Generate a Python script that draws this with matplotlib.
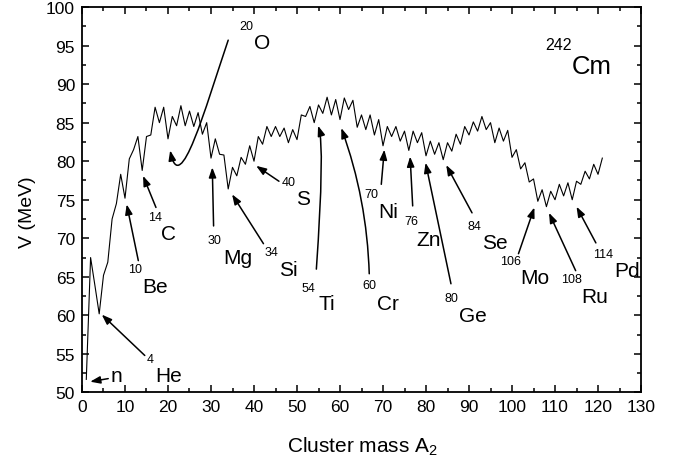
import numpy as np
import matplotlib
matplotlib.use("Agg")
import matplotlib.pyplot as plt
from matplotlib.ticker import MultipleLocator
from matplotlib.patches import FancyArrowPatch
from matplotlib.path import Path

plt.rcParams['font.family'] = ['Liberation Sans', 'DejaVu Sans']

# cluster mass numbers and barrier heights
mass = np.arange(1, 122)
barrier = [
    51.7, 67.5, 63.9, 60.2, 65.2, 66.9, 72.5, 74.5, 78.3, 75.2,    # 1-10
    80.3, 81.5, 83.2, 78.8, 83.2, 83.4, 87.0, 85.0, 87.0, 82.9,    # 11-20
    85.8, 84.6, 87.2, 84.6, 86.5, 84.5, 86.3, 83.5, 85.0, 80.4,    # 21-30
    82.9, 80.9, 80.8, 76.4, 79.2, 78.1, 80.5, 79.6, 82.0, 80.0,    # 31-40
    83.2, 82.2, 84.5, 83.2, 84.5, 83.2, 84.3, 82.4, 84.1, 82.8,    # 41-50
    86.0, 85.8, 87.1, 85.0, 87.3, 86.2, 88.3, 86.0, 88.0, 85.4,    # 51-60
    88.2, 86.7, 87.9, 84.4, 86.0, 84.1, 86.0, 83.4, 85.4, 82.0,    # 61-70
    84.5, 83.2, 84.5, 82.6, 83.9, 81.4, 83.9, 82.4, 83.7, 80.7,    # 71-80
    82.6, 80.9, 82.4, 80.2, 82.4, 81.3, 83.5, 82.2, 84.5, 83.4,    # 81-90
    85.1, 83.9, 85.8, 84.1, 85.0, 82.4, 84.3, 82.6, 84.0, 80.5,    # 91-100
    81.5, 79.0, 79.8, 77.3, 77.7, 74.8, 76.3, 74.1, 76.1, 75.0,    # 101-110
    77.0, 75.5, 77.2, 75.0, 77.4, 77.0, 78.7, 77.7, 79.6, 78.3,    # 111-120
    80.4,                                                          # 121
]

# labelled clusters: mass number, symbol
lab_mass = [1, 4, 10, 14, 20, 30, 34, 40, 54, 60, 70, 76, 80, 84, 106, 108, 114]
lab_sym = ['n', 'He', 'Be', 'C', 'O', 'Mg', 'Si', 'S', 'Ti', 'Cr', 'Ni', 'Zn',
           'Ge', 'Se', 'Mo', 'Ru', 'Pd']
# where the symbol / mass number sit and where each arrow starts (data coords)
sym_pos = [(8.1, 52.2), (20.1, 52.2), (17.0, 63.8), (20.2, 70.6), (42.0, 95.4),
           (36.3, 67.5), (48.0, 66.0), (51.5, 75.1), (56.9, 61.5), (71.2, 61.5),
           (71.2, 73.5), (80.5, 69.9), (90.9, 60.0), (96.0, 69.5), (105.3, 64.9),
           (119.3, 62.4), (126.7, 65.8)]
num_pos = [None, (15.8, 54.3), (12.3, 66.0), (17.0, 72.7), (38.3, 97.6),
           (30.7, 69.8), (44.1, 68.2), (48.0, 77.3), (52.6, 63.6), (66.8, 63.9),
           (67.2, 75.7), (76.7, 72.2), (86.0, 62.2), (91.2, 71.6), (99.7, 67.1),
           (113.9, 64.7), (121.2, 68.0)]
tail_pos = [(6.1, 51.8), (14.6, 54.8), (13.1, 67.1), (17.2, 74.0), (34.0, 95.7),
            (30.6, 71.6), (42.2, 69.3), (45.8, 77.4), (54.5, 66.0), (66.8, 65.4),
            (69.6, 77.0), (76.9, 74.2), (85.8, 64.1), (90.7, 73.3), (101.5, 68.0),
            (114.8, 65.8), (119.5, 69.4)]
tip_dx = [0.9, 0.6, 0.4, 0.2, 0.5, 0.3, 0.9, 0.5, 0.9, 0.3, 0.3, 0.3, -0.1, 0.7,
          -0.8, 0.6, 1.0]
tip_gap = [0.3, 0.1, 0.8, 0.7, 1.5, 1.2, 0.7, 0.6, 0.4, 1.1, 0.5, 0.8, 0.9, 0.7,
           0.8, 0.8, 0.9]
arrow_style = {'Ti': 'angle3,angleA=86,angleB=108',
               'Cr': 'arc3,rad=0.08'}
# the O arrow hooks round under its target
o_ctrl = [(28.6, 86.8), (22.8, 75.1)]

head = '-|>,head_length=0.6,head_width=0.22'

fig = plt.figure(figsize=(6.81, 4.60), dpi=100)
ax = fig.add_axes([0.1204, 0.1446, 0.8209, 0.838])

ax.plot(mass, barrier, color='black', lw=0.8)

v = dict(zip(mass, barrier))
for i, m in enumerate(lab_mass):
    tip = (m + tip_dx[i], v[m] - tip_gap[i])
    if lab_sym[i] == 'O':
        p = Path([tail_pos[i], o_ctrl[0], o_ctrl[1], tip],
                 [Path.MOVETO, Path.CURVE4, Path.CURVE4, Path.CURVE4])
        ax.add_patch(FancyArrowPatch(path=p, arrowstyle=head, mutation_scale=10,
                                     color='black', lw=1.1))
    else:
        ax.annotate('', xy=tip, xytext=tail_pos[i],
                    arrowprops=dict(arrowstyle=head, color='black', lw=1.1,
                                    shrinkA=0, shrinkB=0,
                                    connectionstyle=arrow_style.get(lab_sym[i], 'arc3')))
    ax.text(*sym_pos[i], lab_sym[i], fontsize=15, ha='center', va='center')
    if num_pos[i] is not None:
        ax.text(*num_pos[i], str(m), fontsize=9, ha='center', va='center')

ax.text(110.8, 95.2, '242', fontsize=11.5, ha='center', va='center')
ax.text(118.5, 92.4, 'Cm', fontsize=18.5, ha='center', va='center')

ax.set_xlim(0, 130)
ax.set_ylim(50, 100)
ax.xaxis.set_major_locator(MultipleLocator(10))
ax.xaxis.set_minor_locator(MultipleLocator(5))
ax.yaxis.set_major_locator(MultipleLocator(5))
ax.yaxis.set_minor_locator(MultipleLocator(2.5))
ax.tick_params(which='both', direction='in', top=True, right=True, width=1.1,
               labelsize=12.5, pad=5)
ax.tick_params(which='major', length=5)
ax.tick_params(which='minor', length=3)
for s in ax.spines.values():
    s.set_linewidth(1.3)

ax.set_xlabel(r'Cluster mass A$_{\mathregular{2}}$', fontsize=15)
ax.set_ylabel('V (MeV)', fontsize=14)
ax.xaxis.set_label_coords(0.501, -0.108)
ax.yaxis.set_label_coords(-0.082, 0.471)

fig.savefig('out.png', dpi=100)
